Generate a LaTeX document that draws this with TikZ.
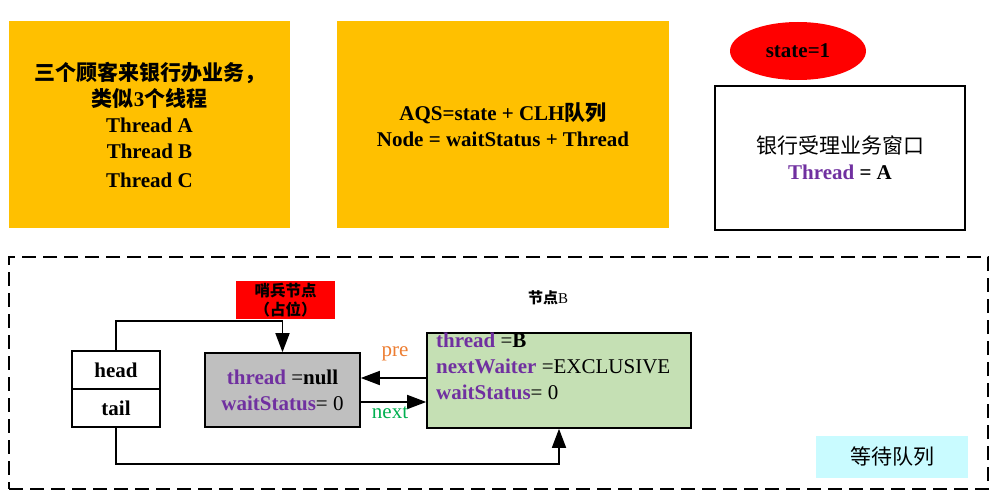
\documentclass[tikz,border=0pt]{standalone}
\usepackage{fontspec}
\setmainfont{Liberation Serif}
\newfontfamily\cjk{Noto Sans CJK SC}
\usetikzlibrary{arrows.meta,shapes.geometric}
\definecolor{gold}{HTML}{FFC000}
\definecolor{purp}{HTML}{7030A0}
\definecolor{orng}{HTML}{ED7D31}
\definecolor{grn}{HTML}{00B050}
\definecolor{graybox}{HTML}{BFBFBF}
\definecolor{greenbox}{HTML}{C5E0B4}
\definecolor{cyanbox}{HTML}{C9FBFF}
\tikzset{
  big/.style={font=\fontsize{21}{26}\selectfont},
  goldbox/.style={fill=gold, draw=none, inner sep=0pt, align=center, big},
  framebox/.style={draw=black, line width=1.6pt, inner sep=0pt, align=center, big},
  arr/.style={line width=1.6pt, -{Triangle[length=19pt,width=14pt]}},
}
\newcommand{\kw}[1]{\textcolor{purp}{\textbf{#1}}}
\begin{document}
\begin{tikzpicture}[x=1pt,y=-1pt]
\useasboundingbox (0,0) rectangle (995,503);
% top row
\node[goldbox, minimum width=281pt, minimum height=207pt] (customers) at (149.5,124.5)
  {{\cjk\bfseries 三个顾客来银行办业务，}\\{\cjk\bfseries 类似}\textbf{3}{\cjk\bfseries 个线程}\\\textbf{Thread A}\\\textbf{Thread B}\\[3pt]\textbf{Thread C}};
\node[goldbox, minimum width=332pt, minimum height=207pt] (aqs) at (503,124.5)
  {\textbf{AQS=state + CLH}{\cjk\bfseries 队列}\\\textbf{Node = waitStatus + Thread}};
\node[ellipse, fill=red, draw=none, minimum width=136pt, minimum height=58pt, inner sep=0pt, big] (state) at (798,51) {\textbf{state=1}};
\node[framebox, fill=white, minimum width=250pt, minimum height=144pt] (window) at (840,158)
  {{\cjk 银行受理业务窗口}\\\kw{Thread} \textbf{= A}};
% waiting queue frame
\node[draw=black, line width=1.1pt, dash pattern=on 14pt off 7pt, minimum width=979pt, minimum height=232pt, inner sep=0pt] (queue) at (498.5,373) {};
\node[fill=cyanbox, minimum width=152pt, minimum height=42pt, inner sep=0pt, big] (qlabel) at (892,457) {\cjk 等待队列};
% head / tail
\node[framebox, fill=white, minimum width=88pt, minimum height=38pt] (head) at (116,370) {\textbf{head}};
\node[framebox, fill=white, minimum width=88pt, minimum height=38pt] (tail) at (116,408) {\textbf{tail}};
% sentinel node
\node[fill=red, minimum width=99pt, minimum height=38pt, inner sep=0pt, align=center, font=\fontsize{15.5}{18.5}\selectfont\cjk\bfseries] (sentinel) at (285.5,300) {哨兵节点\\（占位）};
\node[framebox, fill=graybox, minimum width=155pt, minimum height=74pt] (gray) at (282.5,390)
  {\kw{thread} =\textbf{null}\\\kw{waitStatus}= 0};
% node B
\node[font=\fontsize{15}{17}\selectfont, inner sep=0pt] (nodeBlabel) at (548,298) {{\cjk\bfseries 节点}B};
\node[framebox, fill=greenbox, minimum width=264pt, minimum height=95pt] (green) at (559,380.5) {};
\node[anchor=north west, inner sep=0pt, align=left, big] (greentext) at (436,333)
  {\kw{thread} =\textbf{B}\\\kw{nextWaiter} =EXCLUSIVE\\\kw{waitStatus}= 0};
% connectors
\draw[arr] (head.north) |- ([yshift=31pt]gray.north) -- (gray.north);
\draw[arr] (tail.south) |- ([yshift=-35pt]green.south) -- (green.south);
\draw[arr] (green.west |- 0,378) -- (gray.east |- 0,378);
\draw[arr] (gray.east |- 0,402) -- (green.west |- 0,402);
\node[text=orng, big, inner sep=0pt] (prelabel) at (395,354) {pre};
\node[text=grn, big, inner sep=0pt] (nextlabel) at (390,413) {next};
\end{tikzpicture}
\end{document}
